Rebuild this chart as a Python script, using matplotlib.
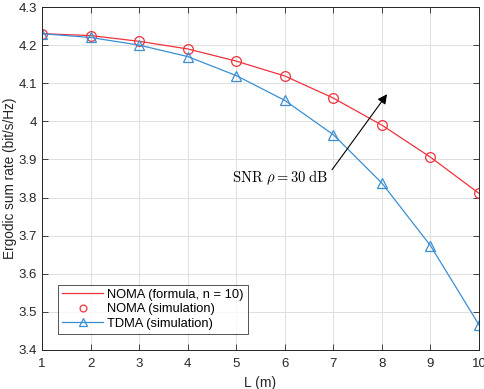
import numpy as np
import matplotlib
matplotlib.use("Agg")
import matplotlib.pyplot as plt

L = [1, 2, 3, 4, 5, 6, 7, 8, 9, 10]
noma_formula = [4.230, 4.225, 4.210, 4.190, 4.158, 4.119, 4.061, 3.990, 3.906, 3.811]
noma_sim = [4.230, 4.225, 4.210, 4.190, 4.158, 4.119, 4.061, 3.990, 3.906, 3.811]
tdma_sim = [4.230, 4.220, 4.200, 4.170, 4.120, 4.055, 3.965, 3.838, 3.674, 3.466]

plt.rcParams['font.family'] = ['Liberation Sans', 'DejaVu Sans']
plt.rcParams['mathtext.fontset'] = 'cm'

red = '#f0323c'
blue = '#3a8fd3'

fig = plt.figure(figsize=(4.85, 3.89), dpi=100)
ax = fig.add_axes([0.0866, 0.1003, 0.901, 0.8817])

ax.plot(L, noma_formula, '-', color=red, lw=0.9, label='NOMA (formula, n = 10)')
ax.plot(L, noma_sim, 'o', color=red, mfc='none', ms=7, mew=0.9, label='NOMA (simulation)')
ax.plot(L, tdma_sim, '-^', color=blue, mfc='none', ms=7.5, mew=0.9, lw=0.9, label='TDMA (simulation)')

ax.set_xlim(1, 10)
ax.set_ylim(3.4, 4.3)
ax.set_xticks(L)
ax.set_yticks(np.round(np.arange(3.4, 4.31, 0.1), 1))
ax.set_yticklabels(['3.4', '3.5', '3.6', '3.7', '3.8', '3.9', '4', '4.1', '4.2', '4.3'])
ax.grid(True, color='#e0e0e0', lw=0.7)
ax.set_axisbelow(True)
ax.tick_params(direction='in', top=True, right=True, labelsize=9.5, colors='#262626', length=4, width=0.6)
ax.tick_params(axis='x', pad=6)
for s in ax.spines.values():
    s.set_color('#262626')
    s.set_linewidth(0.7)

ax.set_xlabel('L (m)', fontsize=10, color='#262626')
ax.set_ylabel('Ergodic sum rate (bit/s/Hz)', fontsize=9.8, color='#262626')
ax.xaxis.set_label_coords(0.5, -0.077)
ax.yaxis.set_label_coords(-0.057, 0.5)

ax.annotate('', xy=(8.14, 4.077), xytext=(6.94, 3.867),
            arrowprops=dict(arrowstyle='-|>', color='black', lw=0.8, mutation_scale=14))
ax.text(6.9, 3.852, r'$\mathrm{SNR}\ \rho = 30\ \mathrm{dB}$', fontsize=10.5, ha='right', va='center')

leg = ax.legend(loc='lower left', bbox_to_anchor=(0.037, 0.047), borderaxespad=0,
                fontsize=9.3, frameon=True, fancybox=False, edgecolor='#262626',
                borderpad=0.3, labelspacing=0.2, handlelength=3.2, handletextpad=0.3,
                markerscale=0.7)
leg.get_frame().set_linewidth(0.7)

fig.savefig('out.png', dpi=100)
